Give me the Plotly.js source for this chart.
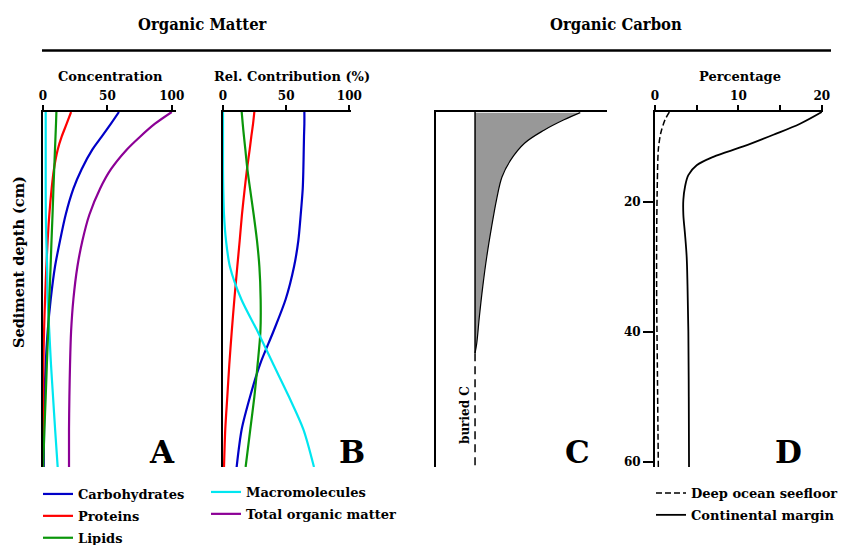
<!DOCTYPE html>
<html>
<head>
<meta charset="utf-8">
<script src="https://cdn.plot.ly/plotly-3.0.1.min.js"></script>
<style>
  html, body { margin: 0; padding: 0; background: #fff; }
  #chart { width: 844px; height: 545px; }
</style>
</head>
<body>
<div id="chart"></div>
<script>
// Sediment depth (cm) at which the organic-matter profiles are sampled
const depthOM = [6.2, 8, 10, 12, 15, 18, 22, 26, 30, 35, 40, 45, 50, 55, 60.8];

// Panel A: concentration
const carbA  = [59, 52.8, 45.6, 38.3, 30, 23.6, 17.6, 13.2, 9.3, 6, 3.6, 2.1, 1.2, 0.8, 0.6];
const protA  = [21.8, 18.4, 14.5, 11.4, 8.5, 6.7, 4.9, 3.6, 2.6, 1.6, 0.8, 0.3, 0.1, 0, 0];
const lipA   = [10.4, 10.1, 9.7, 9.3, 8.7, 8.1, 7.4, 6.6, 5.9, 4.9, 4.0, 3.0, 2.1, 1.1, 0.1];
const macA   = [2.1, 2.1, 2.1, 2.1, 2.1, 2.1, 2.2, 2.6, 3.2, 3.6, 4.9, 6.2, 7.8, 9.4, 11.4];
const totalA = [100, 87, 75.4, 65, 52.8, 44.3, 36, 30.6, 26.7, 23.6, 21.8, 21, 20.5, 20.2, 20.2];

// Panel B: relative contribution (%)
const carbB = [64.4, 64.4, 64.1, 63.9, 63.6, 63.1, 61.5, 59.6, 56.2, 49.6, 39.8, 29.3, 21.4, 14.8, 10.8];
const protB = [24.8, 23.8, 22.4, 21.1, 19.0, 17.2, 15.0, 13.2, 11.3, 9.0, 6.9, 5.0, 3.4, 1.8, 0.8];
const lipB  = [14.8, 15.6, 16.6, 17.7, 19.3, 21.4, 24.3, 26.9, 28.8, 29.8, 29.6, 27.4, 24.8, 21.6, 17.9];
const macB  = [0, 0, 0, 0, 0, 0.2, 0.8, 2.4, 5.5, 14.5, 27.5, 39.8, 52.2, 63.6, 72.0];

// Panel C: organic carbon remaining above the buried fraction
const carbonDepth = [6.3, 7.4, 9.0, 11.0, 13.6, 16.2, 19.7, 23.8, 28.5, 33.1, 37.7, 41.8, 43.3];
const carbonC     = [100, 84.5, 65.5, 47, 33.8, 25.6, 20.4, 15.8, 11.1, 7.3, 4.1, 1.6, 0];
const buriedX = [0, 0];
const activeDepth = [6.2, 43.3];
const buriedDepth = [43.3, 60.8];

// Panel D: organic carbon percentage
const deepDepth = [6.2, 7.4, 9.5, 12, 17, 25, 35, 45, 60.8];
const deepPct   = [1.72, 1.2, 0.68, 0.4, 0.28, 0.2, 0.2, 0.28, 0.4];
const contDepth = [6.2, 8.0, 9.7, 11.5, 13.1, 14.4, 15.9, 17.7, 19.7, 22, 25, 28.5, 33, 40, 50, 60.8];
const contPct   = [20.0, 17.4, 14.2, 10.6, 7.0, 5.0, 4.0, 3.6, 3.4, 3.4, 3.6, 3.8, 3.9, 4.0, 4.05, 4.08];

// Tick labels
const ticksAB = [0, 50, 100];
const ticksD = [0, 5, 10, 15, 20];
const tickTextD = ['0', '', '10', '', '20'];
const ticksDepth = [20, 40, 60];

const COLORS = {
  carb: '#0000c8', prot: '#ff0000', lip: '#0a960a', mac: '#00e6f0', total: '#8c0096'
};
const FONT = 'DejaVu Serif';
const W = 844, H = 545;
const px = v => v / W;
const py = v => 1 - v / H;

function line(color, width, dash, smoothing) {
  return { color: color, width: width, shape: 'spline', smoothing: smoothing || 0.8, dash: dash || 'solid' };
}

const traces = [
  // A
  { name: 'Carbohydrates', x: carbA, y: depthOM, xaxis: 'x', yaxis: 'y', mode: 'lines', line: line(COLORS.carb, 2.2), legend: 'legend', legendgroup: 'a1' },
  { name: 'Proteins', x: protA, y: depthOM, xaxis: 'x', yaxis: 'y', mode: 'lines', line: line(COLORS.prot, 2.2), legend: 'legend', legendgroup: 'a2' },
  { name: 'Macromolecules', x: macA, y: depthOM, xaxis: 'x', yaxis: 'y', mode: 'lines', line: line(COLORS.mac, 2.2), legend: 'legend2', legendgroup: 'a4' },
  { name: 'Lipids', x: lipA, y: depthOM, xaxis: 'x', yaxis: 'y', mode: 'lines', line: line(COLORS.lip, 2.2), legend: 'legend', legendgroup: 'a3' },
  { name: 'Total organic matter', x: totalA, y: depthOM, xaxis: 'x', yaxis: 'y', mode: 'lines', line: line(COLORS.total, 2.2), legend: 'legend2', legendgroup: 'a5' },
  // B
  { name: 'Carbohydrates', x: carbB, y: depthOM, xaxis: 'x2', yaxis: 'y2', mode: 'lines', line: line(COLORS.carb, 2.2), showlegend: false },
  { name: 'Proteins', x: protB, y: depthOM, xaxis: 'x2', yaxis: 'y2', mode: 'lines', line: line(COLORS.prot, 2.2), showlegend: false },
  { name: 'Lipids', x: lipB, y: depthOM, xaxis: 'x2', yaxis: 'y2', mode: 'lines', line: line(COLORS.lip, 2.2), showlegend: false },
  { name: 'Macromolecules', x: macB, y: depthOM, xaxis: 'x2', yaxis: 'y2', mode: 'lines', line: line(COLORS.mac, 2.2), showlegend: false },
  // C
  { name: 'Organic carbon', x: carbonC, y: carbonDepth, xaxis: 'x3', yaxis: 'y3', mode: 'lines', fill: 'tozerox', fillcolor: '#989898', line: line('#000', 1.2, 'solid', 1.0), showlegend: false },
  { name: 'edge', x: buriedX, y: activeDepth, xaxis: 'x3', yaxis: 'y3', mode: 'lines', line: { color: '#000', width: 1.5 }, showlegend: false },
  { name: 'buried C', x: buriedX, y: buriedDepth, xaxis: 'x3', yaxis: 'y3', mode: 'lines', line: { color: '#000', width: 1.5, dash: '8px,5px' }, showlegend: false },
  // D
  { name: 'Deep ocean seefloor', x: deepPct, y: deepDepth, xaxis: 'x4', yaxis: 'y4', mode: 'lines', line: line('#000', 1.5, '6px,3px'), legend: 'legend3', legendgroup: 'd1' },
  { name: 'Continental margin', x: contPct, y: contDepth, xaxis: 'x4', yaxis: 'y4', mode: 'lines', line: line('#000', 1.8, 'solid', 1.0), legend: 'legend3', legendgroup: 'd2' }
];

const yDomain = [py(467), py(112)];
const xBase = {
  side: 'top', showline: true, linewidth: 2, linecolor: '#000', mirror: false,
  ticks: 'outside', ticklen: 5, tickwidth: 2, tickcolor: '#000',
  showgrid: false, zeroline: false, fixedrange: true,
  tickfont: { family: FONT, size: 12, color: '#000', weight: 700 }
};
const yBase = {
  range: [60.8, 6.2], domain: yDomain, showline: true, linewidth: 2, linecolor: '#000',
  ticks: '', showticklabels: false, showgrid: false, zeroline: false, fixedrange: true
};
const legendBase = {
  orientation: 'v', xanchor: 'left', yanchor: 'top', bgcolor: 'rgba(0,0,0,0)',
  borderwidth: 0, tracegroupgap: 2, itemwidth: 30,
  font: { family: FONT, size: 13, color: '#000', weight: 700 }
};

function note(text, x, y, size, extra) {
  return Object.assign({
    text: text, x: px(x), y: py(y), xref: 'paper', yref: 'paper',
    showarrow: false, xanchor: 'center', yanchor: 'middle',
    font: { family: FONT, size: size, color: '#000', weight: 700 }
  }, extra || {});
}

const titleFont = { family: 'DejaVu Serif Condensed, DejaVu Serif', size: 16.5, color: '#000', weight: 700 };

const layout = {
  width: W, height: H,
  margin: { l: 0, r: 0, t: 0, b: 0, autoexpand: false },
  paper_bgcolor: '#fff', plot_bgcolor: 'rgba(0,0,0,0)',
  font: { family: FONT, size: 12, color: '#000', weight: 700 },
  xaxis: Object.assign({}, xBase, { domain: [px(43), px(176)], range: [0, 103.3], anchor: 'y', tickvals: ticksAB }),
  yaxis: Object.assign({}, yBase, { anchor: 'x' }),
  xaxis2: Object.assign({}, xBase, { domain: [px(223), px(351)], range: [0, 101.3], anchor: 'y2', tickvals: ticksAB }),
  yaxis2: Object.assign({}, yBase, { anchor: 'x2' }),
  xaxis3: Object.assign({}, xBase, { domain: [px(436), px(607)], range: [-37.1, 125.4], anchor: 'y3', ticks: '', showticklabels: false }),
  yaxis3: Object.assign({}, yBase, { anchor: 'x3' }),
  xaxis4: Object.assign({}, xBase, { domain: [px(655), px(823)], range: [0, 20.15], anchor: 'y4', tickvals: ticksD, ticktext: tickTextD }),
  yaxis4: Object.assign({}, yBase, {
    anchor: 'x4', ticks: 'outside', ticklen: 10, tickwidth: 2, tickcolor: '#000',
    tickvals: ticksDepth, showticklabels: true,
    tickfont: { family: FONT, size: 12, color: '#000', weight: 700 }
  }),
  legend: Object.assign({}, legendBase, { x: px(38), y: py(479) }),
  legend2: Object.assign({}, legendBase, { x: px(206), y: py(477) }),
  legend3: Object.assign({}, legendBase, { x: px(651), y: py(478) }),
  shapes: [
    { type: 'line', xref: 'paper', yref: 'paper', x0: px(42), x1: px(831), y0: py(50.5), y1: py(50.5), line: { color: '#000', width: 2.5 } }
  ],
  annotations: [
    note('Organic Matter', 202, 24, 16.5, { font: titleFont }),
    note('Organic Carbon', 616, 24, 16.5, { font: titleFont }),
    note('Concentration', 110, 77, 13),
    note('Rel. Contribution (%)', 292, 77, 13),
    note('Percentage', 740, 77, 13),
    note('Sediment depth (cm)', 18, 262, 14.5, { textangle: -90 }),
    note('buried C', 465, 415, 12, { textangle: -90 }),
    note('A', 162, 452, 31),
    note('B', 352, 452, 31),
    note('C', 577, 452, 31),
    note('D', 788, 452, 31)
  ]
};

Plotly.newPlot('chart', traces, layout, { staticPlot: true, displayModeBar: false });
</script>
</body>
</html>
